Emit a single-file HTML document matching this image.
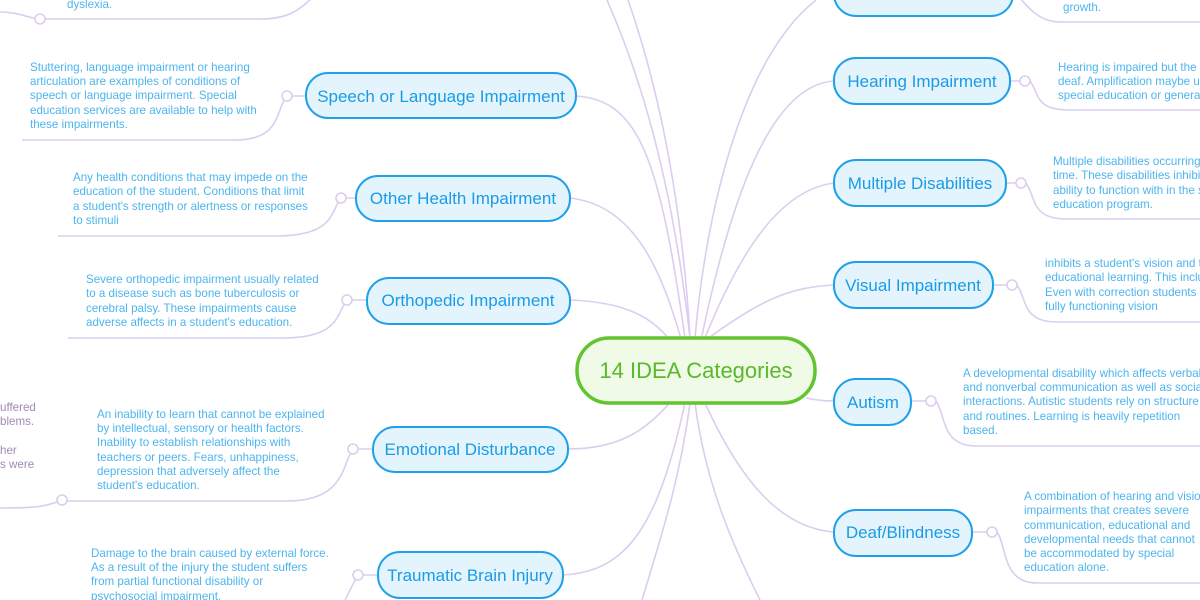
<!DOCTYPE html>
<html><head><meta charset="utf-8"><style>
html,body{margin:0;padding:0;background:#fff;}
svg{display:block;font-family:"Liberation Sans",sans-serif;}
.c{fill:none;stroke:#dccdf0;stroke-width:1.6;}
.n{fill:#e3f4fd;stroke:#1ea1ea;stroke-width:2;}
.nt{fill:#1a9be6;font-size:17px;text-anchor:middle;}
.d{fill:#4cb5ee;font-size:11.6px;}
.p{fill:#a08ab8;font-size:11.6px;}
.o{fill:#fff;stroke:#dccdf0;stroke-width:1.6;}
</style></head><body>
<svg width="1200" height="600" viewBox="0 0 1200 600">
<g class="c">
<path d="M690,338 C680,250 660,120 607,0"/>
<path d="M690,338 C685,250 670,120 628,0"/>
<path d="M695,338 C705,220 740,60 816,0"/>
<path d="M686,345 C660,160 640,100 576,96"/>
<path d="M684,350 C660,260 630,205 570,198"/>
<path d="M680,355 C660,320 630,302 570,300"/>
<path d="M680,390 C650,430 620,449 568,449"/>
<path d="M686,398 C660,520 630,572 563,575"/>
<path d="M690,403 C680,480 660,540 642,600"/>
<path d="M695,403 C705,480 730,540 760,600"/>
<path d="M700,345 C730,200 770,85 834,81"/>
<path d="M702,345 C740,250 780,190 834,183"/>
<path d="M706,340 C760,300 790,287 834,285"/>
<path d="M806,398 C815,400 825,401 834,401"/>
<path d="M705,403 C740,480 780,528 834,532"/>
</g>
<g class="c">
<path d="M0,12 C20,12 30,19 40,19 L260,19 C290,19 300,10 320,-10"/>
<path d="M306,96 L292,96 M287,96 C275,110 282,140 235,140 L22,140"/>
<path d="M356,198 L346,198 M341,198 C330,212 335,236 275,236 L58,236"/>
<path d="M367,300 L352,300 M347,300 C336,314 340,338 282,338 L68,338"/>
<path d="M373,449 L358,449 M353,449 C342,463 346,501 287,501 L67,501 M57,502 C45,506 40,508 0,508"/>
<path d="M378,575 L363,575 M358,575 C352,585 348,595 345,600"/>
</g>
<g class="c">
<path d="M1013,-10 C1030,10 1040,22 1060,22 L1200,22"/>
<path d="M1010,81 L1020,81 M1030,81 C1040,95 1035,110 1070,110 L1200,110"/>
<path d="M1006,183 L1016,183 M1026,183 C1036,197 1031,219 1066,219 L1200,219"/>
<path d="M993,285 L1007,285 M1017,285 C1027,299 1022,322 1057,322 L1200,322"/>
<path d="M911,401 L926,401 M936,401 C946,415 941,446 976,446 L1200,446"/>
<path d="M972,532 L987,532 M997,532 C1007,546 1002,583 1037,583 L1200,583"/>
</g>
<g>
<circle class="o" cx="40" cy="19" r="5"/>
<circle class="o" cx="287" cy="96" r="5"/>
<circle class="o" cx="341" cy="198" r="5"/>
<circle class="o" cx="347" cy="300" r="5"/>
<circle class="o" cx="353" cy="449" r="5"/>
<circle class="o" cx="62" cy="500" r="5"/>
<circle class="o" cx="358" cy="575" r="5"/>
<circle class="o" cx="1025" cy="81" r="5"/>
<circle class="o" cx="1021" cy="183" r="5"/>
<circle class="o" cx="1012" cy="285" r="5"/>
<circle class="o" cx="931" cy="401" r="5"/>
<circle class="o" cx="992" cy="532" r="5"/>
</g>
<rect x="577" y="338" width="238" height="65" rx="32" fill="#effbe6" stroke="#62c42e" stroke-width="3.5"/>
<text x="696" y="378" fill="#5ab82c" font-size="22" text-anchor="middle">14 IDEA Categories</text>
<rect class="n" x="306" y="73" width="270" height="45" rx="22"/>
<text class="nt" x="441" y="102">Speech or Language Impairment</text>
<rect class="n" x="356" y="176" width="214" height="45" rx="22"/>
<text class="nt" x="463" y="204">Other Health Impairment</text>
<rect class="n" x="367" y="278" width="203" height="46" rx="22"/>
<text class="nt" x="468" y="306">Orthopedic Impairment</text>
<rect class="n" x="373" y="427" width="195" height="45" rx="22"/>
<text class="nt" x="470" y="455">Emotional Disturbance</text>
<rect class="n" x="378" y="552" width="185" height="46" rx="22"/>
<text class="nt" x="470" y="581">Traumatic Brain Injury</text>
<rect class="n" x="834" y="-30" width="179" height="46" rx="22"/>
<rect class="n" x="834" y="58" width="176" height="46" rx="22"/>
<text class="nt" x="922" y="87">Hearing Impairment</text>
<rect class="n" x="834" y="160" width="172" height="46" rx="22"/>
<text class="nt" x="920" y="189">Multiple Disabilities</text>
<rect class="n" x="834" y="262" width="159" height="46" rx="22"/>
<text class="nt" x="913" y="291">Visual Impairment</text>
<rect class="n" x="834" y="379" width="77" height="46" rx="22"/>
<text class="nt" x="873" y="408">Autism</text>
<rect class="n" x="834" y="510" width="138" height="46" rx="22"/>
<text class="nt" x="903" y="538">Deaf/Blindness</text>
<text class="d" x="67" y="8">dyslexia.</text>
<text class="d"><tspan x="30" y="71">Stuttering, language impairment or hearing</tspan><tspan x="30" y="85">articulation are examples of conditions of</tspan><tspan x="30" y="99">speech or language impairment. Special</tspan><tspan x="30" y="114">education services are available to help with</tspan><tspan x="30" y="128">these impairments.</tspan></text>
<text class="d"><tspan x="73" y="181">Any health conditions that may impede on the</tspan><tspan x="73" y="195">education of the student. Conditions that limit</tspan><tspan x="73" y="210">a student's strength or alertness or responses</tspan><tspan x="73" y="224">to stimuli</tspan></text>
<text class="d"><tspan x="86" y="283">Severe orthopedic impairment usually related</tspan><tspan x="86" y="297">to a disease such as bone tuberculosis or</tspan><tspan x="86" y="312">cerebral palsy. These impairments cause</tspan><tspan x="86" y="326">adverse affects in a student's education.</tspan></text>
<text class="d"><tspan x="97" y="418">An inability to learn that cannot be explained</tspan><tspan x="97" y="432">by intellectual, sensory or health factors.</tspan><tspan x="97" y="446">Inability to establish relationships with</tspan><tspan x="97" y="461">teachers or peers. Fears, unhappiness,</tspan><tspan x="97" y="475">depression that adversely affect the</tspan><tspan x="97" y="489">student's education.</tspan></text>
<text class="p"><tspan x="0" y="411">uffered</tspan><tspan x="0" y="425">blems.</tspan><tspan x="0" y="454">her</tspan><tspan x="0" y="468">s were</tspan></text>
<text class="d"><tspan x="91" y="557">Damage to the brain caused by external force.</tspan><tspan x="91" y="571">As a result of the injury the student suffers</tspan><tspan x="91" y="585">from partial functional disability or</tspan><tspan x="91" y="600">psychosocial impairment.</tspan></text>
<text class="d" x="1063" y="11">growth.</text>
<text class="d"><tspan x="1058" y="71">Hearing is impaired but the student is not</tspan><tspan x="1058" y="85">deaf. Amplification maybe used in</tspan><tspan x="1058" y="99">special education or general education.</tspan></text>
<text class="d"><tspan x="1053" y="165">Multiple disabilities occurring at the same</tspan><tspan x="1053" y="179">time. These disabilities inhibit a student's</tspan><tspan x="1053" y="194">ability to function with in the special</tspan><tspan x="1053" y="208">education program.</tspan></text>
<text class="d"><tspan x="1045" y="267">inhibits a student's vision and their</tspan><tspan x="1045" y="281">educational learning. This includes blindness.</tspan><tspan x="1045" y="296">Even with correction students may not have</tspan><tspan x="1045" y="310">fully functioning vision</tspan></text>
<text class="d"><tspan x="963" y="377">A developmental disability which affects verbal</tspan><tspan x="963" y="391">and nonverbal communication as well as social</tspan><tspan x="963" y="405">interactions. Autistic students rely on structure</tspan><tspan x="963" y="420">and routines. Learning is heavily repetition</tspan><tspan x="963" y="434">based.</tspan></text>
<text class="d"><tspan x="1024" y="500">A combination of hearing and vision</tspan><tspan x="1024" y="514">impairments that creates severe</tspan><tspan x="1024" y="529">communication, educational and</tspan><tspan x="1024" y="543">developmental needs that cannot</tspan><tspan x="1024" y="557">be accommodated by special</tspan><tspan x="1024" y="571">education alone.</tspan></text>
</svg>
</body></html>
